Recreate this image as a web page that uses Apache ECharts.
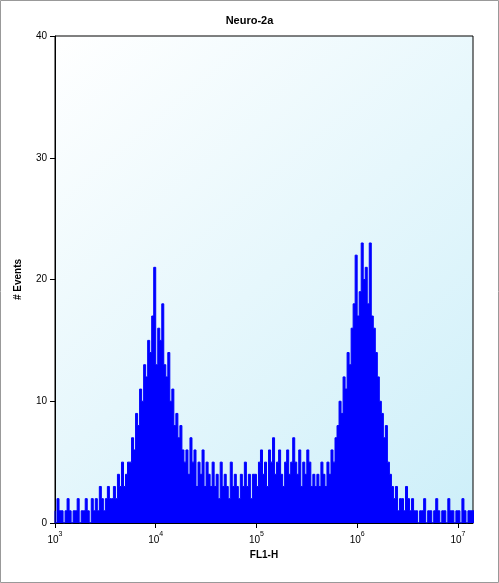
<!DOCTYPE html>
<html><head><meta charset="utf-8">
<script src="https://cdn.jsdelivr.net/npm/echarts@6/dist/echarts.min.js"></script>
<style>html,body{margin:0;padding:0;background:#fff}#c{width:499px;height:583px}</style>
</head><body><div id="c"></div>
<script>
const title = "Neuro-2a";
const xName = "FL1-H";
const yName = "# Events";
const binStart = 3.0;      // log10 of first bin edge
const binWidth = 0.02;     // bin width in decades
const counts = [
 1,0,2,1,1,0,1,2,1,0,1,1,2,0,1,1,2,1,0,2,
 1,2,1,3,2,1,2,3,2,2,
 3,2,4,3,5,3,4,5,
 5,7,6,9,8,11,10,13,12,15,
 14,17,21,13,16,15,18,
 13,12,14,10,11,8,9,7,8,6,
 5,6,4,7,5,6,3,5,4,6,3,5,4,3,5,
 3,4,2,5,3,4,3,2,5,3,4,3,2,4,3,5,3,4,2,4,
 4,3,5,6,4,5,3,6,5,7,4,5,6,4,3,5,6,4,5,7,5,4,6,3,5,4,6,5,3,4,
 3,4,3,5,4,3,5,4,6,5,
 7,8,10,9,12,11,14,13,
 16,18,22,17,19,23,20,21,18,23,17,16,
 14,12,10,9,7,8,5,4,
 3,2,3,1,2,2,1,3,2,1,2,1,
 1,0,1,1,2,0,1,1,0,1,2,1,0,1,1,0,2,1,1,0,1,1,0,2,1,0,1,1
];
const yTicks = [0,10,20,30,40];
const data = counts.map((v,i)=>[+(binStart+i*binWidth).toFixed(2), v]);
data.push([+(binStart+counts.length*binWidth).toFixed(2), counts[counts.length-1]]);
const chart = echarts.init(document.getElementById('c'));
chart.setOption({
  animation:false,
  title:{text:title,left:'center',top:10,textStyle:{fontSize:11,fontWeight:'bold',color:'#000',fontFamily:'Arial, Liberation Sans'}},
  graphic:[{type:'rect',shape:{x:0.5,y:0.5,width:498,height:582},style:{fill:null,stroke:'#999',lineWidth:1},silent:true}],
  grid:{left:55,right:26,top:36,bottom:60,show:true,borderColor:'#000',borderWidth:1,
    backgroundColor:{type:'linear',x:0,y:0,x2:1,y2:1,colorStops:[{offset:0,color:'#ffffff'},{offset:1,color:'#cdeff9'}]}},
  xAxis:{type:'value',min:3,max:7.15,interval:1,name:xName,nameLocation:'middle',nameGap:26,
    nameTextStyle:{fontSize:10,fontWeight:'bold',color:'#000'},
    axisLine:{show:true,lineStyle:{color:'#000'}},axisTick:{lineStyle:{color:'#000'}},splitLine:{show:false},
    axisLabel:{showMaxLabel:false,formatter:v=>'{b|10}{s|'+v+'}',
      rich:{b:{fontSize:10,color:'#000',verticalAlign:'bottom',lineHeight:14},s:{fontSize:7,color:'#000',verticalAlign:'top',lineHeight:8}}}},
  yAxis:{type:'value',min:yTicks[0],max:yTicks[yTicks.length-1],interval:10,name:yName,nameLocation:'middle',nameGap:32,
    nameTextStyle:{fontSize:10,fontWeight:'bold',color:'#000'},
    axisLine:{show:true,lineStyle:{color:'#000'}},axisTick:{show:true,lineStyle:{color:'#000'}},splitLine:{show:false},
    axisLabel:{fontSize:10,color:'#000'}},
  series:[{type:'line',step:'start',data:data,symbol:'none',
    lineStyle:{color:'#0000ff',width:1},areaStyle:{color:'#0000ff',opacity:1}}]
});
</script></body></html>
